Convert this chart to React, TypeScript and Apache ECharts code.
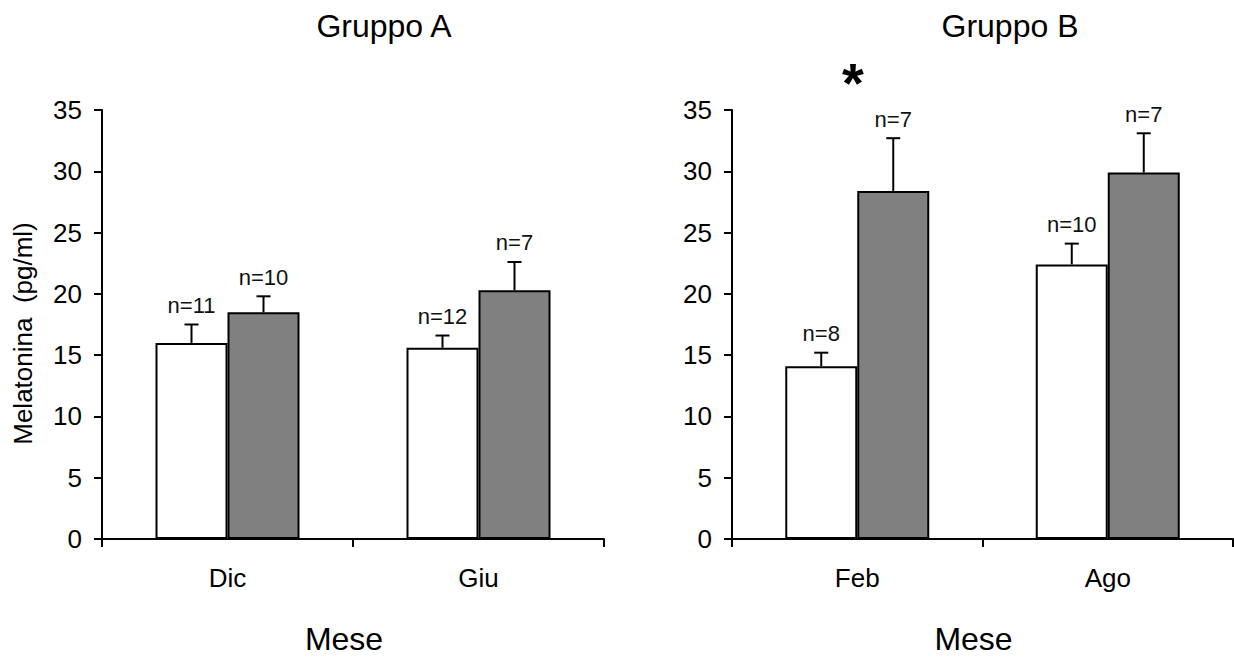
import React, { useEffect, useRef } from "react";
import * as echarts from "echarts";

// ---- data ----
const categoriesA = ["Dic", "Giu"];
const categoriesB = ["Feb", "Ago"];
const yTicks = { min: 0, max: 35, interval: 5 };

const meanA_white = [16.0, 15.6];
const errA_white = [1.5, 1.0];
const nA_white = ["n=11", "n=12"];
const meanA_grey = [18.5, 20.3];
const errA_grey = [1.3, 2.3];
const nA_grey = ["n=10", "n=7"];

const meanB_white = [14.1, 22.4];
const errB_white = [1.1, 1.7];
const nB_white = ["n=8", "n=10"];
const meanB_grey = [28.4, 29.9];
const errB_grey = [4.3, 3.2];
const nB_grey = ["n=7", "n=7"];

const titles = ["Gruppo A", "Gruppo B"];
const xName = "Mese";
const yName = "Melatonina  (pg/ml)";
const signif = "*";

// ---- styles ----
const FONT = "'Liberation Sans', Arial, Helvetica, sans-serif";
const BAR_W = 72;
const CAP = 7;

function barSeries(idx: number, data: number[], color: string) {
  return {
    type: "bar",
    xAxisIndex: idx,
    yAxisIndex: idx,
    data,
    barWidth: BAR_W,
    barGap: "0%",
    itemStyle: { color, borderColor: "#000", borderWidth: 2 },
    silent: true,
  };
}

function errSeries(idx: number, means: number[], errs: number[], labels: string[], side: number) {
  return {
    type: "custom",
    xAxisIndex: idx,
    yAxisIndex: idx,
    data: means.map((m, i) => [i, m, m + errs[i]]),
    z: 10,
    silent: true,
    renderItem: (params: any, api: any) => {
      const i = api.value(0);
      const base = api.coord([i, api.value(1)]);
      const top = api.coord([i, api.value(2)]);
      const x = base[0] + (side * BAR_W) / 2;
      return {
        type: "group",
        children: [
          { type: "line", shape: { x1: x, y1: base[1], x2: x, y2: top[1] }, style: { stroke: "#000", lineWidth: 2 } },
          { type: "line", shape: { x1: x - CAP, y1: top[1], x2: x + CAP, y2: top[1] }, style: { stroke: "#000", lineWidth: 2 } },
          {
            type: "text",
            x,
            y: top[1] - 8,
            style: {
              text: labels[i],
              fill: "#111",
              fontSize: 22,
              fontFamily: FONT,
              align: "center",
              verticalAlign: "bottom",
            },
          },
        ],
      };
    },
  };
}

function xAxis(idx: number, cats: string[]) {
  return {
    type: "category",
    gridIndex: idx,
    data: cats,
    boundaryGap: true,
    axisLine: { lineStyle: { color: "#000", width: 2 } },
    axisTick: { show: true, length: 8, lineStyle: { color: "#000", width: 2 } },
    axisLabel: { color: "#000", fontSize: 26, fontFamily: FONT, margin: 26 },
    name: xName,
    nameLocation: "middle",
    nameGap: 84,
    nameTextStyle: { color: "#000", fontSize: 32, fontFamily: FONT, padding: [0, 18, 0, 0] },
  };
}

function yAxis(idx: number, withName: boolean) {
  return {
    type: "value",
    gridIndex: idx,
    min: yTicks.min,
    max: yTicks.max,
    interval: yTicks.interval,
    splitLine: { show: false },
    axisLine: { show: true, lineStyle: { color: "#000", width: 2 } },
    axisTick: { show: true, length: 8, lineStyle: { color: "#000", width: 2 } },
    axisLabel: { color: "#000", fontSize: 26, fontFamily: FONT, margin: 20 },
    name: withName ? yName : "",
    nameLocation: "middle",
    nameRotate: 90,
    nameGap: 66,
    nameTextStyle: { color: "#000", fontSize: 26, fontFamily: FONT, padding: [0, 18, 0, 0] },
  };
}

export default function App() {
  const ref = useRef<HTMLDivElement>(null);
  useEffect(() => {
    if (!ref.current) return;
    const chart = echarts.init(ref.current, null, { renderer: "svg" });
    chart.setOption({
      animation: false,
      backgroundColor: "#fff",
      grid: [
        { left: 102, top: 110, width: 502, height: 432 },
        { left: 732, top: 110, width: 501, height: 432 },
      ],
      xAxis: [xAxis(0, categoriesA), xAxis(1, categoriesB)],
      yAxis: [yAxis(0, true), yAxis(1, false)],
      series: [
        barSeries(0, meanA_white, "#ffffff"),
        barSeries(0, meanA_grey, "#808080"),
        barSeries(1, meanB_white, "#ffffff"),
        barSeries(1, meanB_grey, "#808080"),
        errSeries(0, meanA_white, errA_white, nA_white, -1),
        errSeries(0, meanA_grey, errA_grey, nA_grey, 1),
        errSeries(1, meanB_white, errB_white, nB_white, -1),
        errSeries(1, meanB_grey, errB_grey, nB_grey, 1),
      ],
      graphic: [
        {
          type: "text",
          x: 384,
          y: 26,
          style: { text: titles[0], fill: "#000", fontSize: 32, fontFamily: FONT, align: "center", verticalAlign: "middle" },
        },
        {
          type: "text",
          x: 1010,
          y: 26,
          style: { text: titles[1], fill: "#000", fontSize: 32, fontFamily: FONT, align: "center", verticalAlign: "middle" },
        },
        {
          type: "text",
          x: 853,
          y: 82,
          style: { text: signif, fill: "#000", fontSize: 56, fontWeight: "bold", fontFamily: FONT, align: "center", verticalAlign: "middle" },
        },
      ],
    });
    return () => chart.dispose();
  }, []);
  return <div ref={ref} style={{ position: "fixed", left: 0, top: 0, width: 1234, height: 660 }} />;
}
